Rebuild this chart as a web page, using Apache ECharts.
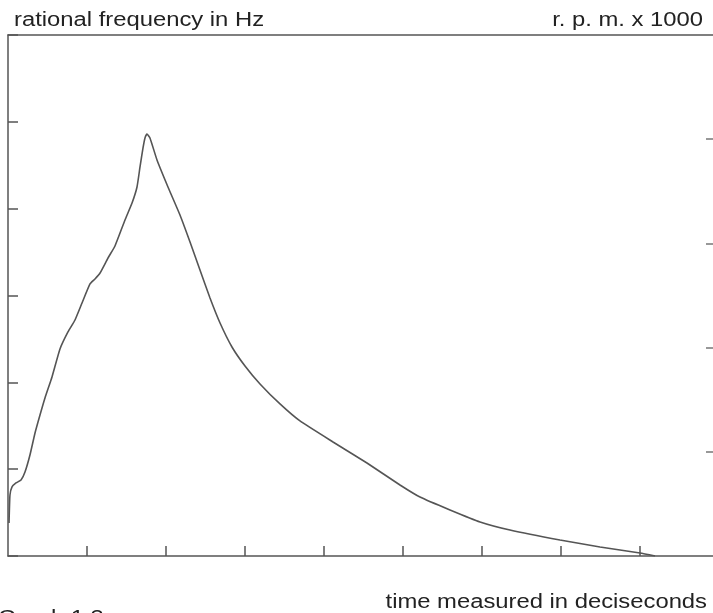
<!DOCTYPE html>
<html>
<head>
<meta charset="utf-8">
<script src="https://cdn.jsdelivr.net/npm/echarts@6/dist/echarts.min.js"></script>
<style>
html,body{margin:0;padding:0;background:#fff;}
#chart{width:713px;height:613px;}
</style>
</head>
<body>
<div id="chart"></div>
<script>
// time in tick units (one unit per x tick)
const timeValues = [0.013, 0.025, 0.051, 0.101, 0.165, 0.215, 0.278, 0.342, 0.405, 0.468, 0.557, 0.658, 0.759, 0.848, 0.937, 1.038, 1.101, 1.165, 1.266, 1.354, 1.481, 1.570, 1.633, 1.671, 1.709, 1.734, 1.759, 1.797, 1.886, 2.025, 2.177, 2.304, 2.430, 2.557, 2.684, 2.835, 3.000, 3.190, 3.443, 3.696, 4.114, 4.544, 4.962, 5.215, 5.595, 5.975, 6.354, 6.987, 7.494, 8.000, 8.190];
// frequency in left-axis tick units
const freqValues = [0.380, 0.703, 0.795, 0.841, 0.875, 0.967, 1.163, 1.417, 1.624, 1.820, 2.062, 2.384, 2.580, 2.718, 2.914, 3.133, 3.190, 3.259, 3.432, 3.570, 3.870, 4.065, 4.250, 4.480, 4.699, 4.814, 4.860, 4.814, 4.561, 4.250, 3.927, 3.616, 3.294, 2.971, 2.683, 2.407, 2.188, 1.981, 1.751, 1.555, 1.313, 1.071, 0.818, 0.679, 0.530, 0.392, 0.299, 0.184, 0.104, 0.035, 0.000];
const leftTicks = [0, 1, 2, 3, 4, 5, 6];
const rightTicks = [0, 1, 2, 3, 4, 5];
const xTicks = [1, 2, 3, 4, 5, 6, 7, 8];
const xTickMax = 8.924;
const titleLeft = 'rational frequency in Hz';
const titleRight = 'r. p. m. x 1000';
const xTitle = 'time measured in deciseconds';
const captionText = 'Graph 1.3';

const points = timeValues.map((t, i) => [t, freqValues[i]]);
const axisCol = '#555';
const font = '"Liberation Sans", Arial, sans-serif';
const sx = 1.19;

const chart = echarts.init(document.getElementById('chart'), null, {renderer: 'canvas'});
chart.setOption({
  animation: false,
  backgroundColor: '#fff',
  grid: {left: 8, right: 0, top: 35, bottom: 57},
  xAxis: [{
    type: 'value', min: 0, max: xTickMax, interval: 1, position: 'bottom',
    axisLine: {show: true, onZero: false, lineStyle: {color: axisCol, width: 1.5}},
    axisTick: {show: true, inside: true, length: 10, customValues: xTicks, lineStyle: {color: axisCol, width: 1.5}},
    axisLabel: {show: false}, splitLine: {show: false}
  }, {
    type: 'value', min: 0, max: xTickMax, position: 'top',
    axisLine: {show: true, onZero: false, lineStyle: {color: axisCol, width: 1.5}},
    axisTick: {show: false}, axisLabel: {show: false}, splitLine: {show: false}
  }],
  yAxis: [{
    type: 'value', min: leftTicks[0], max: leftTicks[leftTicks.length - 1], interval: 1, position: 'left',
    axisLine: {show: true, onZero: false, lineStyle: {color: axisCol, width: 1.5}},
    axisTick: {show: true, inside: true, length: 10, lineStyle: {color: axisCol, width: 1.5}},
    axisLabel: {show: false}, splitLine: {show: false}
  }, {
    type: 'value', min: rightTicks[0], max: rightTicks[rightTicks.length - 1], interval: 1, position: 'right',
    axisLine: {show: false, onZero: false},
    axisTick: {show: true, inside: true, length: 7, customValues: [1, 2, 3, 4], lineStyle: {color: '#777', width: 1.5}},
    axisLabel: {show: false}, splitLine: {show: false}
  }],
  series: [{
    type: 'line', xAxisIndex: 0, yAxisIndex: 0, data: points,
    showSymbol: false, smooth: 0.15,
    lineStyle: {color: '#555', width: 1.6}
  }],
  graphic: [
    {type: 'text', x: 14, y: 10, scaleX: sx, style: {text: titleLeft, font: '20px ' + font, fill: '#222'}},
    {type: 'text', x: 703, y: 10, scaleX: sx, style: {text: titleRight, font: '20px ' + font, fill: '#222', align: 'right'}},
    {type: 'text', x: 707, y: 592, scaleX: sx, style: {text: xTitle, font: '20px ' + font, fill: '#222', align: 'right'}},
    {type: 'text', x: -2, y: 608, scaleX: sx, style: {text: captionText, font: '20px ' + font, fill: '#222'}}
  ]
});
</script>
</body>
</html>
